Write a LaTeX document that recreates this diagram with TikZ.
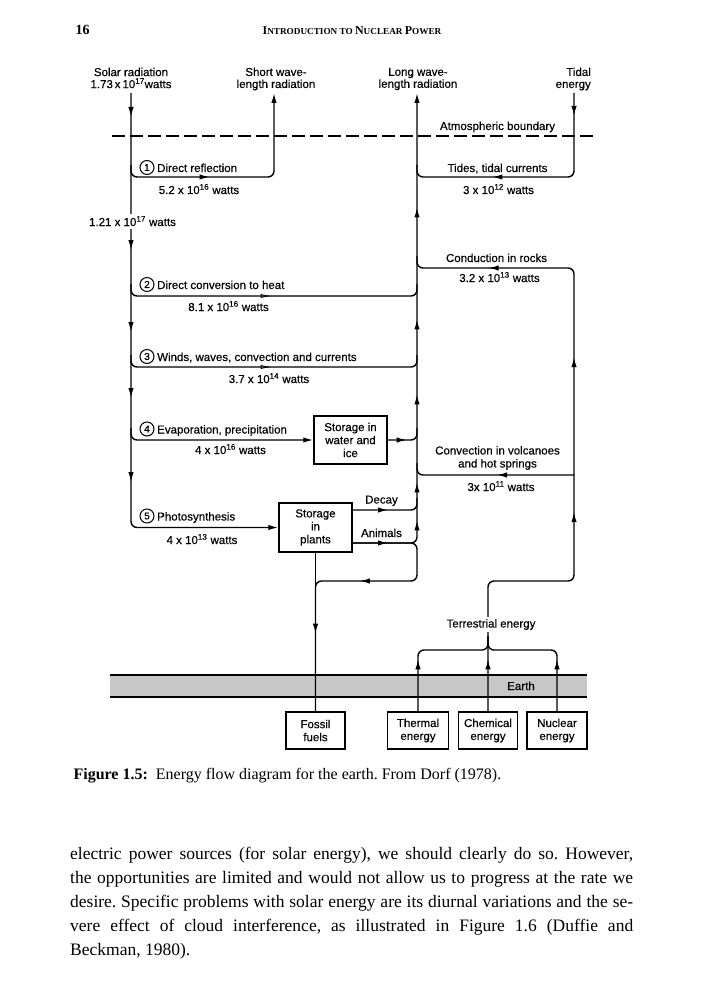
\documentclass[tikz,border=0pt]{standalone}
\usepackage{fontspec}
\setmainfont{Liberation Serif}
\newfontfamily\diagfont{Liberation Sans}[UprightFeatures={FakeBold=0.4}]
\usetikzlibrary{arrows.meta, decorations.markings}

\newcommand{\tenx}[1]{10\textsuperscript{#1}}
\newcommand{\hsc}[2]{{\fontsize{12}{12}\selectfont #1}{\fontsize{9.2}{9.2}\selectfont #2}}

\tikzset{
  >={Latex[length=10pt,width=5.4pt]},
  flow/.style={line width=1.4pt, rounded corners=6pt},
  arr/.style={postaction={decorate, decoration={markings,
      mark=at position #1pt with {\arrow{Latex[length=10pt,width=5.4pt]}}}}},
  openarr/.style={postaction={decorate, decoration={markings,
      mark=at position #1pt with {\arrow{Latex[open,length=11pt,width=4pt,line width=0.8pt]}}}}},
  lbl/.style={font=\diagfont\fontsize{11.5}{12}\selectfont, inner sep=0pt},
  box/.style={draw, line width=1.4pt, align=center, inner sep=0pt,
      font=\diagfont\fontsize{11.5}{13}\selectfont},
  numc/.style={circle, draw, line width=1pt, minimum size=14pt, inner sep=0pt,
      font=\diagfont\fontsize{10}{10}\selectfont},
  gap/.style={fill=white, inner xsep=1pt, inner ysep=2.5pt},
  body/.style={font=\fontsize{17.5}{24}\selectfont, inner sep=0pt}
}

\begin{document}
\frenchspacing
\begin{tikzpicture}[x=1pt, y=-1pt]
  \useasboundingbox (0,0) rectangle (702,1000);

  % Running head
  \node[anchor=base west, font=\fontsize{14}{14}\selectfont\bfseries] (pnum) at (72,35) {16};
  \node[anchor=base, font=\bfseries] (rhead) at (352,35) {\hsc{I}{NTRODUCTION TO }\hsc{N}{UCLEAR }\hsc{P}{OWER}};

  % Inputs and outputs at the top
  \node[lbl, align=center] (solar) at (131,78) {Solar radiation\\1.73\,x\,\tenx{17}watts};
  \node[lbl, align=center] (shortw) at (276,79) {Short wave-\\length radiation};
  \node[lbl, align=center] (longw) at (418,79) {Long wave-\\length radiation};
  \node[lbl, align=right, anchor=east] (tidal) at (591,79) {Tidal\\energy};

  \coordinate (sTop) at (131,93);
  \coordinate (wTop) at (274,93);
  \coordinate (lTop) at (417,93);
  \coordinate (tTop) at (574,93);

  % Atmospheric boundary
  \coordinate (atmL) at (112,136);
  \coordinate (atmR) at (594,136);
  \draw[line width=1.4pt, dash pattern=on 13pt off 5pt] (atmL) -- (atmR);
  \node[lbl, anchor=base] (atm) at (497.5,130) {Atmospheric boundary};

  % Earth layer
  \coordinate (earthNW) at (110,675);
  \coordinate (earthNE) at (587,675);
  \coordinate (earthSW) at (110,697);
  \coordinate (earthSE) at (587,697);
  \fill[black!22] (earthNW) rectangle (earthSE);
  \draw[line width=1.4pt] (earthNW) -- (earthNE) (earthSW) -- (earthSE);
  \node[lbl, anchor=base] (earth) at (521,690) {Earth};

  % Storage boxes
  \node[box, minimum width=73pt, minimum height=48pt] (water) at (350.5,440) {Storage in\\water and\\ice};
  \node[box, minimum width=73pt, minimum height=49pt] (plants) at (315.5,527.5) {Storage\\in\\plants};
  \node[box, minimum width=59pt, minimum height=37pt] (fossil) at (315.5,730.5) {Fossil\\fuels};
  \node[box, minimum width=61pt, minimum height=37pt] (therm) at (418,730.5) {Thermal\\energy};
  \node[box, minimum width=59pt, minimum height=37pt] (chem) at (488,730.5) {Chemical\\energy};
  \node[box, minimum width=60pt, minimum height=37pt] (nuc) at (557,730.5) {Nuclear\\energy};

  % Branch points
  \coordinate (b1) at (131,165);
  \coordinate (refl) at (274,177);
  \coordinate (tideC) at (417,177);
  \coordinate (tideU) at (417,165);
  \coordinate (b2) at (131,284);
  \coordinate (heatC) at (417,296);
  \coordinate (heatU) at (417,284);
  \coordinate (b3) at (131,355);
  \coordinate (windC) at (417,367);
  \coordinate (windU) at (417,355);
  \coordinate (b4) at (131,428);
  \coordinate (waterU) at (417,428);
  \coordinate (decayS) at (352,510);
  \coordinate (decayU) at (417,498);
  \coordinate (animS) at (352,543);
  \coordinate (loopC) at (417,581);
  \coordinate (convS) at (574,475);
  \coordinate (convU) at (417,463);
  \coordinate (rockC) at (574,268);
  \coordinate (rockU) at (417,256);
  \coordinate (terrC) at (488,581);
  \coordinate (braceC) at (488,650);
  \coordinate (braceT) at (488,636);

  % Solar energy down the left side
  \draw[flow, ->, arr=24, arr=157, arr=239, arr=305, arr=389] (sTop) |- (plants.west);
  \draw[flow, ->, arr=88] (b1) |- (refl) -- (wTop);
  \draw[flow, openarr=150] (b2) |- (heatC) -- (heatU);
  \draw[flow, openarr=150] (b3) |- (windC) -- (windU);
  \draw[flow, ->] (b4) |- (water.west);
  \draw[flow, arr=19] (water.east) -| (waterU);
  \draw[flow, arr=36] (decayS) -| (decayU);

  % Long wave return
  \draw[flow, ->, arr=36, arr=85, arr=123, arr=211, arr=286, arr=398] (animS) -| (lTop);
  \draw[flow, arr=155] (animS) -| (loopC) -| (fossil.north);
  \draw[flow, arr=81] (plants.south) -- (fossil.north);

  % Tidal and terrestrial inputs
  \draw[flow, arr=23, arr=163] (tTop) |- (tideC) -- (tideU);
  \draw[flow, arr=52, arr=280, arr=435, arr=607] (chem.north) -- (terrC) -| (rockC) -| (rockU);
  \draw[flow, arr=77] (convS) -| (convU);
  \draw[flow, arr=52] (therm.north) |- (braceC) -- (braceT);
  \draw[flow, arr=52] (nuc.north) |- (braceC) -- (braceT);

  % Flow labels
  \node[numc] (n1) at (147,167.5) {1};
  \node[lbl, anchor=base west] (l1) at (157,172) {Direct reflection};
  \node[lbl, anchor=base] (v1) at (199,194) {5.2 x \tenx{16} watts};
  \node[lbl, anchor=base, gap] (vin) at (132.5,226) {1.21 x \tenx{17} watts};
  \node[lbl, anchor=base] (ltide) at (497.5,172) {Tides, tidal currents};
  \node[lbl, anchor=base] (vtide) at (498.5,194) {3 x \tenx{12} watts};
  \node[lbl, anchor=base] (lrock) at (496.5,262) {Conduction in rocks};
  \node[lbl, anchor=base] (vrock) at (499.5,282) {3.2 x \tenx{13} watts};
  \node[numc] (n2) at (147,284.5) {2};
  \node[lbl, anchor=base west] (l2) at (157,289) {Direct conversion to heat};
  \node[lbl, anchor=base] (v2) at (228.5,311) {8.1 x \tenx{16} watts};
  \node[numc] (n3) at (147,356.5) {3};
  \node[lbl, anchor=base west] (l3) at (157,361) {Winds, waves, convection and currents};
  \node[lbl, anchor=base] (v3) at (269,383) {3.7 x \tenx{14} watts};
  \node[numc] (n4) at (147,429) {4};
  \node[lbl, anchor=base west] (l4) at (157,433.5) {Evaporation, precipitation};
  \node[lbl, anchor=base] (v4) at (230.5,454) {4 x \tenx{16} watts};
  \node[lbl, align=center, font=\diagfont\fontsize{11.5}{13}\selectfont] (lconv) at (497.5,458) {Convection in volcanoes\\and hot springs};
  \node[lbl, anchor=base] (vconv) at (501,491) {3x \tenx{11} watts};
  \node[lbl, anchor=base] (ldecay) at (381.5,503.5) {Decay};
  \node[numc] (n5) at (147,516) {5};
  \node[lbl, anchor=base west] (l5) at (157,520.5) {Photosynthesis};
  \node[lbl, anchor=base] (lanim) at (381.5,537) {Animals};
  \node[lbl, anchor=base] (v5) at (202,544) {4 x \tenx{13} watts};
  \node[lbl, anchor=base, gap] (lterr) at (491,627.5) {Terrestrial energy};

  % Caption and text
  \node[anchor=base west, font=\fontsize{16}{19}\selectfont] (caption) at (70,779) {\textbf{Figure 1.5:}\ \ Energy flow diagram for the earth. From Dorf (1978).};
  \node[body, anchor=north west, text width=563pt, align=justify] (para) at (70,847) {electric power sources (for solar energy), we should clearly do so. However,\linebreak the opportunities are limited and would not allow us to progress at the rate we\linebreak desire. Specific problems with solar energy are its diurnal variations and the se-\linebreak vere effect of cloud interference, as illustrated in Figure 1.6 (Duffie and\linebreak Beckman, 1980).};
\end{tikzpicture}
\end{document}
